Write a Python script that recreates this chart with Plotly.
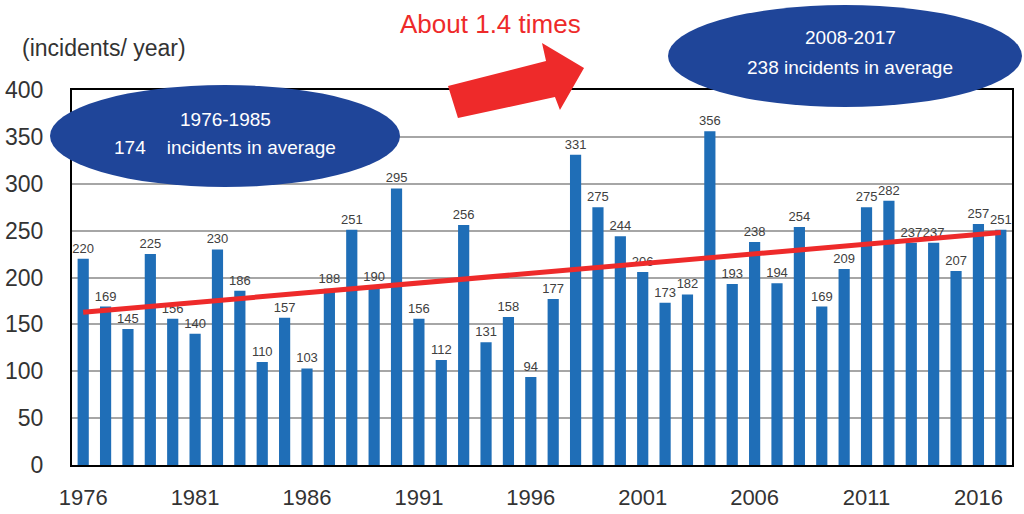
import plotly.graph_objects as go

years = list(range(1976, 2018))
incidents = [220, 169, 145, 225, 156, 140, 230, 186, 110, 157,
             103, 188, 251, 190, 295, 156, 112, 256, 131, 158,
             94, 177, 331, 275, 244, 206, 173, 182, 356, 193,
             238, 194, 254, 169, 209, 275, 282, 237, 237, 207,
             257, 251]
trend_years = [1976, 2017]
trend_values = [163, 248]
tick_years = [1976, 1981, 1986, 1991, 1996, 2001, 2006, 2011, 2016]
y_ticks = [0, 50, 100, 150, 200, 250, 300, 350, 400]

W, H = 1024, 514
L, R, T, B = 72, 12, 90, 49
PW, PH = W - L - R, H - T - B


def px(x):
    return (x - L) / PW


def py(y):
    return (H - B - y) / PH


label_font = dict(family="Liberation Sans", size=13, color="#404040")

fig = go.Figure()
fig.add_trace(go.Bar(
    x=years, y=incidents, width=0.5,
    marker=dict(color="#1F6EB7", line=dict(width=0)),
    text=[str(v) for v in incidents], textposition="outside",
    textfont=label_font, outsidetextfont=label_font,
    constraintext="none", textangle=0,
    cliponaxis=False, hoverinfo="x+y",
))
fig.add_trace(go.Scatter(
    x=trend_years, y=trend_values, mode="lines",
    line=dict(color="#EE2A2A", width=5), hoverinfo="skip",
))

shapes = []
# arrow
pts = [(448, 86), (546, 61), (542, 43), (584, 68), (560, 110), (555, 97), (458, 118)]
path = "M " + " L ".join(f"{px(a):.4f},{py(b):.4f}" for a, b in pts) + " Z"
shapes.append(dict(type="path", xref="paper", yref="paper", path=path,
                   fillcolor="#EE2A2A", line=dict(width=0), layer="above"))
# ellipses
for (x0, y0, x1, y1) in [(50, 85, 400, 187), (668, 5, 1022, 107)]:
    shapes.append(dict(type="circle", xref="paper", yref="paper",
                       x0=px(x0), x1=px(x1), y0=py(y1), y1=py(y0),
                       fillcolor="#1F4599", line=dict(width=0), layer="above"))

white = dict(family="Liberation Sans", size=19, color="white")
annotations = [
    dict(text="(incidents/ year)", xref="paper", yref="paper", x=px(20), y=py(48),
         xanchor="left", yanchor="middle", showarrow=False,
         font=dict(family="Liberation Sans", size=23, color="#333333")),
    dict(text="About 1.4 times", xref="paper", yref="paper", x=px(490), y=py(24),
         xanchor="center", yanchor="middle", showarrow=False,
         font=dict(family="Liberation Sans", size=26, color="#EE2A2A")),
    dict(text="1976-1985", xref="paper", yref="paper", x=px(225), y=py(119),
         xanchor="center", yanchor="middle", showarrow=False, font=white),
    dict(text="174    incidents in average", xref="paper", yref="paper", x=px(225), y=py(148),
         xanchor="center", yanchor="middle", showarrow=False, font=white),
    dict(text="2008-2017", xref="paper", yref="paper", x=px(850), y=py(38),
         xanchor="center", yanchor="middle", showarrow=False, font=white),
    dict(text="238 incidents in average", xref="paper", yref="paper", x=px(850), y=py(67),
         xanchor="center", yanchor="middle", showarrow=False, font=white),
]

fig.update_layout(
    width=W, height=H,
    margin=dict(l=L, r=R, t=T, b=B, pad=0, autoexpand=False),
    paper_bgcolor="white", plot_bgcolor="white",
    showlegend=False, bargap=0.5,
    shapes=shapes, annotations=annotations,
    xaxis=dict(range=[1975.5, 2017.5], tickmode="array", tickvals=tick_years,
               ticktext=[str(y) for y in tick_years], showgrid=False,
               showline=True, linecolor="#000000", linewidth=2, mirror=True,
               ticks="", ticklabelstandoff=12, automargin=False,
               tickfont=dict(family="Liberation Sans", size=22, color="#333333")),
    yaxis=dict(range=[0, 400], tickmode="array", tickvals=y_ticks,
               showgrid=True, gridcolor="#A6A6A6", gridwidth=2,
               showline=True, linecolor="#000000", linewidth=2, mirror=True,
               ticks="", ticklabelstandoff=22, zeroline=False, automargin=False,
               tickfont=dict(family="Liberation Sans", size=23, color="#333333")),
)

fig.write_html("out.html")
